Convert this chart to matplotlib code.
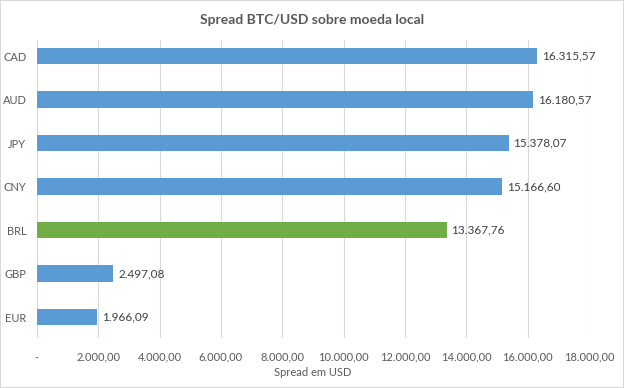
import matplotlib.pyplot as plt
from matplotlib.ticker import FuncFormatter

currencies = ["EUR", "GBP", "BRL", "CNY", "JPY", "AUD", "CAD"]
spreads = [1966.09, 2497.08, 13367.76, 15166.60, 15378.07, 16180.57, 16315.57]
highlight = "BRL"

plt.rcParams["font.family"] = ["Lato", "DejaVu Sans"]
text_color = "#595959"


def br_fmt(v):
    s = f"{v:,.2f}"
    return s.replace(",", "X").replace(".", ",").replace("X", ".")


fig = plt.figure(figsize=(6.24, 3.88), dpi=100)
ax = fig.add_axes([0.059, 0.129, 0.885, 0.768])

colors = ["#70AD47" if c == highlight else "#5B9BD5" for c in currencies]
bars = ax.barh(currencies, spreads, height=0.38, color=colors, zorder=3)

for b, v in zip(bars, spreads):
    ax.text(b.get_width() + 150, b.get_y() + b.get_height() / 2, br_fmt(v),
            va="center", ha="left", fontsize=8.5, color="#404040")

ax.set_xlim(0, 18000)
ax.set_xticks(range(0, 18001, 2000))
ax.xaxis.set_major_formatter(FuncFormatter(lambda v, p: "-" if v == 0 else br_fmt(v)))
ax.set_ylim(-0.48, 6.37)
ax.grid(axis="x", color="#D9D9D9", linewidth=0.8, zorder=0)
for s in ax.spines.values():
    s.set_visible(False)
ax.tick_params(length=0, labelsize=8, labelcolor=text_color)
ax.tick_params(axis="x", pad=10)
ax.tick_params(axis="y", pad=7.5)

ax.set_xlabel("Spread em USD", fontsize=8, color=text_color, labelpad=3)
fig.suptitle("Spread BTC/USD sobre moeda local", y=0.965, fontsize=10,
             fontweight="bold", color=text_color)

fig.patches.append(plt.Rectangle((0, 0), 1, 1, transform=fig.transFigure,
                                 fill=False, edgecolor="#D9D9D9", linewidth=1.5))

plt.savefig("out.png", dpi=100)
